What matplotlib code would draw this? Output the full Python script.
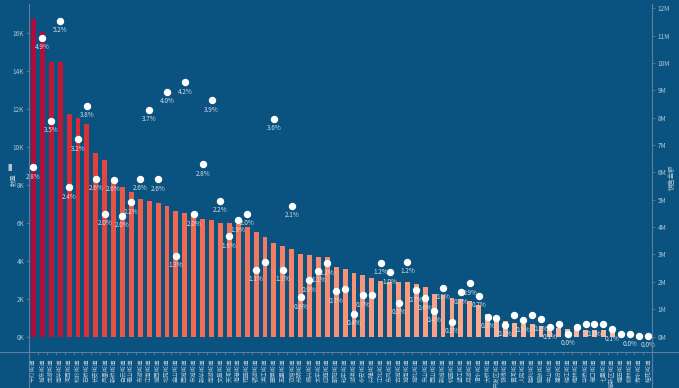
import matplotlib
matplotlib.use("Agg")
import matplotlib.pyplot as plt
from matplotlib.colors import LinearSegmentedColormap
from matplotlib.lines import Line2D
from matplotlib.ticker import FixedLocator, FuncFormatter
import numpy as np

plt.rcParams['font.family'] = ['Noto Sans CJK SC', 'DejaVu Sans']

categories = [
    "千灯街道", "城东街道", "龙湖街道", "南华街道", "河西街道", "松岭街道", "石桥街道", "长安街道",
    "凤凰街道", "新桥街道", "白云街道", "青山街道", "东湖街道", "江南街道", "城西街道", "北苑街道",
    "金山街道", "西城街道", "东城街道", "新华街道", "南湖街道", "文昌街道", "天河街道", "海港街道",
    "花园街道", "银湖街道", "滨江街道", "翠屏街道", "五里街道", "双塔街道", "光明街道", "振兴街道",
    "太平街道", "红旗街道", "朝阳街道", "和平街道", "湖滨街道", "永安街道", "兴隆街道", "江北街道",
    "东风街道", "古城街道", "城南街道", "城北街道", "东山街道", "西山街道", "新城街道", "桃园街道",
    "望江街道", "月湖街道", "清水街道", "大桥街道", "开发区街道", "锦绣街道", "黄河街道", "人民街道",
    "胜利街道", "解放街道", "中山街道", "建设街道", "临江街道", "梅林街道", "华侨街道", "港口街道",
    "七里街道", "高新区街道", "福田街道", "柳林街道", "秀水街道", "桂花街道",
]

# bar series (count, left axis)
counts = [
    16740, 16070, 14490, 14490, 11730, 11550, 11220, 9710, 9320, 8300,
    7900, 7630, 7250, 7140, 7050, 6890, 6610, 6540, 6470, 6210,
    6150, 6000, 6000, 5940, 5770, 5520, 5270, 4940, 4780, 4630,
    4360, 4290, 4200, 4200, 3660, 3570, 3380, 3270, 3080, 2940,
    2900, 2870, 2870, 2800, 2610, 2240, 2200, 2060, 1990, 1870,
    1670, 1210, 930, 830, 720, 690, 690, 580, 510, 460,
    410, 480, 370, 370, 370, 280, 70, 50, 30, 20,
]

# point series (amount, right axis)
amounts = [
    6.18e6, 10.93e6, 7.89e6, 11.54e6, 5.45e6, 7.22e6, 8.44e6, 5.77e6, 4.49e6, 5.73e6,
    4.41e6, 4.91e6, 5.77e6, 8.30e6, 5.75e6, 8.95e6, 2.96e6, 9.30e6, 4.47e6, 6.30e6,
    8.63e6, 4.97e6, 3.66e6, 4.25e6, 4.49e6, 2.44e6, 2.72e6, 7.96e6, 2.45e6, 4.78e6,
    1.43e6, 2.06e6, 2.40e6, 2.68e6, 1.66e6, 1.72e6, 0.84e6, 1.51e6, 1.50e6, 2.69e6,
    2.35e6, 1.23e6, 2.74e6, 1.70e6, 1.41e6, 0.95e6, 1.79e6, 0.54e6, 1.61e6, 1.95e6,
    1.49e6, 0.73e6, 0.67e6, 0.43e6, 0.80e6, 0.59e6, 0.78e6, 0.64e6, 0.33e6, 0.46e6,
    0.10e6, 0.33e6, 0.45e6, 0.45e6, 0.45e6, 0.26e6, 0.11e6, 0.09e6, 0.03e6, 0.03e6,
]

# percentage labels (empty where the label is hidden in the reference)
pct_labels = [
    "2.8%", "4.9%", "3.5%", "5.2%", "2.4%", "3.2%", "3.8%", "2.6%", "2.0%", "2.6%",
    "2.0%", "2.2%", "2.6%", "3.7%", "2.6%", "4.0%", "1.3%", "4.2%", "2.0%", "2.8%",
    "3.9%", "2.2%", "1.6%", "1.9%", "2.0%", "1.1%", "", "3.6%", "1.1%", "2.1%",
    "0.6%", "0.9%", "1.1%", "1.2%", "0.7%", "", "0.4%", "0.7%", "", "1.2%",
    "1.0%", "0.5%", "1.2%", "0.7%", "0.6%", "0.4%", "0.8%", "0.2%", "0.7%", "0.9%",
    "0.7%", "0.3%", "", "0.2%", "", "0.3%", "", "0.2%", "0.1%", "",
    "0.0%", "", "", "0.2%", "", "0.1%", "", "0.0%", "", "0.0%",
]

left_ticks = [0, 2000, 4000, 6000, 8000, 10000, 12000, 14000, 16000]
right_ticks = [0, 1e6, 2e6, 3e6, 4e6, 5e6, 6e6, 7e6, 8e6, 9e6, 10e6, 11e6, 12e6]
left_name = "数量"
right_name = "销售金额"

BG = "#0a5380"
AXC = "#5b7f9c"
TXT = "#b4c4d2"

W, H = 679, 388
fig = plt.figure(figsize=(W / 100, H / 100), dpi=100, facecolor=BG)
L, R, T, B = 29, 652.3, 8.3, 351.7
ax = fig.add_axes([L / W, 1 - B / H, (R - L) / W, (B - T) / H])
ax.set_facecolor("none")
ax2 = ax.twinx()
ax2.set_facecolor("none")

n = len(categories)
x = np.arange(n)

cmap = LinearSegmentedColormap.from_list(
    "reds", ["#fcbaa2", "#f99479", "#f0674f", "#e23d3a", "#c81a33", "#ad0d3d"])
vals = np.array(counts, dtype=float)
norm = vals / vals.max()
colors = cmap(norm)
ax.bar(x, counts, width=0.55, color=colors, zorder=2)

ax2.plot(x, amounts, linestyle="none", marker="o", markersize=4.3,
         markerfacecolor="white", markeredgecolor="white", zorder=5)
for xi, yi, lab in zip(x, amounts, pct_labels):
    if lab:
        ax2.annotate(lab, (xi, yi), xytext=(0, -4), textcoords="offset points",
                     ha="center", va="top", fontsize=4.6, color="#d6e0e8", zorder=6)

ax.set_xlim(-0.5, n - 0.5)
ax.set_ylim(-790, 17320)
ax2.set_ylim(-0.555e6, 12e6)

ax.yaxis.set_major_locator(FixedLocator(left_ticks))
ax.yaxis.set_major_formatter(FuncFormatter(lambda v, p: f"{int(v/1000)}K"))
ax2.yaxis.set_major_locator(FixedLocator(right_ticks))
ax2.yaxis.set_major_formatter(FuncFormatter(lambda v, p: f"{int(round(v/1e6))}M"))

ax.set_xticks(x)
ax.set_xticklabels(categories, rotation=90, fontsize=4.2, color=TXT, ha="center", va="top")
ax.tick_params(axis="x", length=0, pad=5)
ax.set_xticks(np.arange(n + 1) - 0.5, minor=True)
ax.tick_params(axis="x", which="minor", length=2.5, color=AXC, width=0.6)

ax.tick_params(axis="y", length=2.5, color=AXC, width=0.6, labelsize=4.6, labelcolor=TXT, pad=1)
ax2.tick_params(axis="y", length=2.5, color=AXC, width=0.6, labelsize=4.6, labelcolor=TXT, pad=1.5)

for a in (ax, ax2):
    for s in a.spines.values():
        s.set_visible(False)

# axis lines (extend like the reference)
fig.add_artist(Line2D([L / W, L / W], [0, 1 - T / H + 0.012], color=AXC, lw=0.8))
fig.add_artist(Line2D([R / W, R / W], [0, 1 - T / H + 0.012], color=AXC, lw=0.8))
fig.add_artist(Line2D([0, 1], [1 - B / H, 1 - B / H], color=AXC, lw=0.8))

fig.text(13 / W, 1 - 180 / H, left_name, rotation=90, fontsize=4.6, color=TXT,
         ha="center", va="center")
fig.text(8.5 / W, 1 - 167 / H, "\u2590", fontsize=5, color=TXT, ha="center", va="center")
fig.text(672 / W, 1 - 177 / H, right_name, rotation=90, fontsize=4.6, color=TXT,
         ha="center", va="center")

fig.savefig("out.png", dpi=100, facecolor=BG)
